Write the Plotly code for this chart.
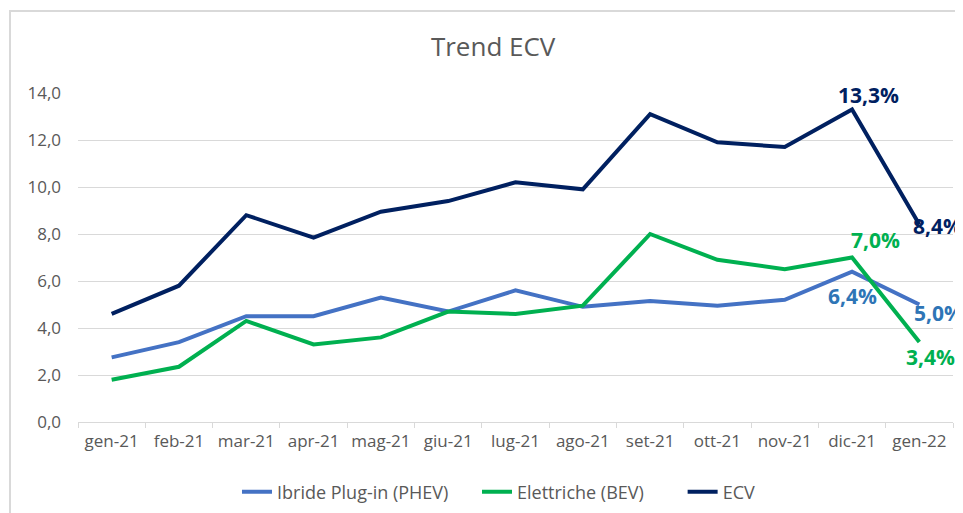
import plotly.graph_objects as go

months = ["gen-21", "feb-21", "mar-21", "apr-21", "mag-21", "giu-21", "lug-21",
          "ago-21", "set-21", "ott-21", "nov-21", "dic-21", "gen-22"]
phev = [2.75, 3.4, 4.5, 4.5, 5.3, 4.7, 5.6, 4.9, 5.15, 4.95, 5.2, 6.4, 5.0]
bev = [1.8, 2.35, 4.3, 3.3, 3.6, 4.7, 4.6, 4.95, 8.0, 6.9, 6.5, 7.0, 3.4]
ecv = [4.6, 5.8, 8.8, 7.85, 8.95, 9.4, 10.2, 9.9, 13.1, 11.9, 11.7, 13.3, 8.4]
y_ticks = [0, 2, 4, 6, 8, 10, 12, 14]
y_tick_labels = ["0,0", "2,0", "4,0", "6,0", "8,0", "10,0", "12,0", "14,0"]
names = ["Ibride Plug-in (PHEV)", "Elettriche (BEV)", "ECV"]

C_PHEV = "#4472C4"
C_BEV = "#00B050"
C_ECV = "#002060"
C_PHEV_LBL = "#2E75B6"
LBL_SIZE = 21
FONT = "Open Sans"


def fmt(v):
    return f"{v:.1f}".replace(".", ",") + "%"


fig = go.Figure()
fig.add_trace(go.Scatter(x=months, y=phev, name=names[0], mode="lines",
                         line=dict(color=C_PHEV, width=4), legend="legend"))
fig.add_trace(go.Scatter(x=months, y=bev, name=names[1], mode="lines",
                         line=dict(color=C_BEV, width=4), legend="legend2"))
fig.add_trace(go.Scatter(x=months, y=ecv, name=names[2], mode="lines",
                         line=dict(color=C_ECV, width=4), legend="legend3"))

# data labels for the last two months (pixel offsets only)
label_specs = [
    (phev, 11, C_PHEV_LBL, 0, -24),
    (phev, 12, C_PHEV_LBL, 19, -8),
    (bev, 11, C_BEV, 23, 18),
    (bev, 12, C_BEV, 11, -15),
    (ecv, 11, C_ECV, 16, 14),
    (ecv, 12, C_ECV, 18, -1),
]
for vals, i, col, dx, dy in label_specs:
    fig.add_annotation(x=months[i], y=vals[i], text=fmt(vals[i]), showarrow=False,
                       xanchor="center", yanchor="middle", xshift=dx, yshift=dy,
                       font=dict(color=col, size=LBL_SIZE, family=FONT, weight="bold"))

leg_common = dict(orientation="h", xanchor="left", y=-0.213, yanchor="middle",
                  font=dict(size=18, color="#595959", family=FONT),
                  bgcolor="rgba(0,0,0,0)")

fig.update_layout(
    width=955, height=505,
    paper_bgcolor="white", plot_bgcolor="white",
    margin=dict(l=70, r=10, t=85, b=91, autoexpand=False),
    font=dict(family=FONT, color="#595959", size=17),
    title=dict(text="Trend ECV", x=0.508, xanchor="center", y=0.923, yanchor="middle",
               font=dict(size=26, color="#595959")),
    showlegend=True,
    legend=dict(x=0.1817, **leg_common),
    legend2=dict(x=0.456, **leg_common),
    legend3=dict(x=0.691, **leg_common),
    xaxis=dict(type="category", range=[-0.5, len(months) - 0.5], showgrid=False,
               showline=True, linecolor="#D9D9D9", tickangle=0,
               linewidth=1, ticks="outside", tickson="boundaries", ticklen=5,
               tickcolor="#D9D9D9", automargin=False, ticklabelstandoff=4,
               tickfont=dict(size=17, color="#595959")),
    yaxis=dict(range=[0, 14], tickvals=y_ticks, ticktext=y_tick_labels,
               showgrid=True, gridcolor="#D9D9D9", gridwidth=1, zeroline=False,
               showline=False, ticks="", ticklabelstandoff=16, automargin=False,
               tickfont=dict(size=17, color="#595959")),
    shapes=[dict(type="rect", xref="paper", yref="paper",
                 x0=-0.0777, x1=1.05, y0=-0.3, y1=1.249,
                 line=dict(color="#D9D9D9", width=2), layer="below")],
)

fig.write_html("out.html")
